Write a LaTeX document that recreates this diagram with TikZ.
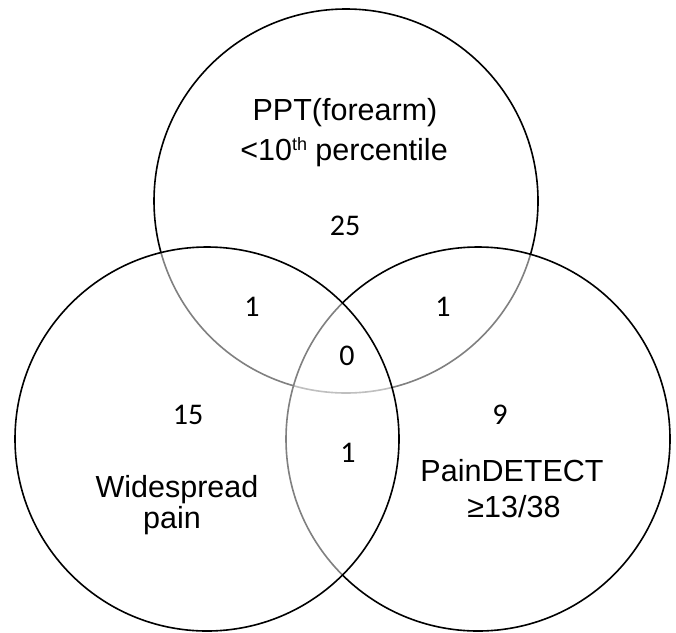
\documentclass[tikz,border=0pt]{standalone}
\usepackage{fontspec}
\newfontfamily\lab{Liberation Sans}
\newfontfamily\num{Carlito}
\begin{document}
\begin{tikzpicture}[x=1pt,y=-1pt,
  venn/.style={circle, draw=black, line width=1.6pt, fill=white, fill opacity=0.5, text opacity=1, minimum size=384pt, inner sep=0pt, outer sep=0pt},
  numlab/.style={inner sep=0pt, font=\num\fontsize{30}{30}\selectfont},
  biglab/.style={inner sep=0pt, anchor=base, font=\lab\fontsize{30.5}{30.5}\selectfont}]
\useasboundingbox[fill=white] (0,0) rectangle (676,632);
% circles (layer order: top, right, left)
\node[venn] (ppt) at (346,201) {};
\node[venn] (pd) at (478,439) {};
\node[venn] (wp) at (207,439) {};
% labels
\node[biglab] (l1a) at (345,120) {PPT(forearm)};
\node[biglab] (l1b) at (344,160) {<10\raisebox{10pt}{\fontsize{18}{18}\selectfont th} percentile};
\node[biglab] (l2a) at (177,497) {Widespread};
\node[biglab] (l2b) at (172,528) {pain};
\node[biglab] (l3a) at (512,481) {PainDETECT};
\node[biglab] (l3b) at (514,517) {≥13/38};
% counts
\node[numlab] (n25) at (345,226) {25};
\node[numlab] (n1a) at (252,307) {1};
\node[numlab] (n1b) at (443,307) {1};
\node[numlab] (n0) at (347,356) {0};
\node[numlab] (n15) at (188,415) {15};
\node[numlab] (n9) at (500,415) {9};
\node[numlab] (n1c) at (348,453) {1};
\end{tikzpicture}
\end{document}
